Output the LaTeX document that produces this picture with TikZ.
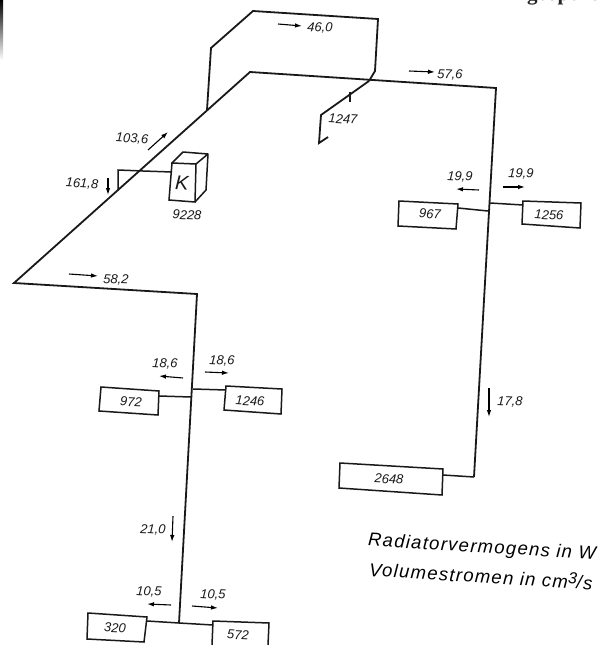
\documentclass[tikz,border=0pt]{standalone}
\usepackage{fontspec}
\usetikzlibrary{arrows.meta}
\setmainfont{Liberation Sans}
\newfontfamily\topfont{Liberation Serif}
\begin{document}
\begin{tikzpicture}[x=1pt,y=-1pt,
  pipe/.style={line width=1.8pt,line join=miter,draw=black!90},
  thin pipe/.style={line width=1.5pt,draw=black!90},
  flow/.style={line width=1.1pt,-{Latex[length=7pt,width=4.5pt]}},
  lbl/.style={font=\fontsize{13}{13}\itshape,rotate=-3,inner sep=0pt,text=black!90},
  biglbl/.style={font=\fontsize{18.5}{19}\addfontfeature{LetterSpace=7}\itshape,rotate=-3.5,inner sep=0pt,text=black},
  rad/.style={draw=black!90,line width=1.5pt,fill=white}]
\useasboundingbox (0,0) rectangle (610,645);
\fill[white] (0,0) rectangle (610,645);
\begin{scope}
\clip (0,0) rectangle (610,645);
\shade[top color=black,bottom color=white] (0,0) rectangle (3,60);
\node[anchor=base west,inner sep=0pt,font=\fontsize{21}{21}\topfont\bfseries,text=black!85] (cut) at (527,1) {geopend};
\end{scope}
% main network
\coordinate (start) at (14,283);
\coordinate (apex) at (250,72);
\coordinate (tr) at (496,88);
\coordinate (end2648) at (474,477);
\coordinate (jl) at (197,294);
\coordinate (jb) at (179,623);
\coordinate (ja) at (207,110);
\coordinate (jc) at (369,81);
\draw[pipe] (end2648) -- (tr) -- (apex) -- (start) -- (jl) -- (jb);
\draw[pipe] (ja) -- (211,48) -- (253,11) -- (378,19) -- (375,71) -- (jc);
% radiators
\draw[rad] (340,463) -- (443,469) -- (442,495) -- (339,488) -- cycle;
\draw[rad] (399,201) -- (458,204) -- (456,229) -- (398,226) -- cycle;
\draw[rad] (523,201) -- (581,203) -- (580,228) -- (522,224) -- cycle;
\draw[rad] (101,387) -- (159,391) -- (158,415) -- (99,411) -- cycle;
\draw[rad] (226,386) -- (282,389) -- (281,414) -- (224,410) -- cycle;
\draw[rad] (88,613) -- (147,617) -- (144,642) -- (87,639) -- cycle;
\draw[line width=1.5pt,draw=black!90] (212,645) -- (213,621) -- (269,623) -- (268,645);
\coordinate (r2648) at (443,475);
\coordinate (r967) at (458,208);
\coordinate (r1256) at (523,205);
\coordinate (r972) at (159,396);
\coordinate (r1246) at (226,390);
\coordinate (r320) at (147,621);
\coordinate (r572) at (213,625);
\draw[thin pipe] (r2648) -- (end2648);
\draw[thin pipe] (r967) -- (488,211);
\draw[thin pipe] (490,203) -- (r1256);
\draw[thin pipe] (r972) -- (191,397);
\draw[thin pipe] (193,389) -- (r1246);
\draw[thin pipe] (r320) -- (jb) -- (r572);
% boiler
\draw[rad] (172,163) -- (196,164) -- (195,202) -- (169,200) -- cycle;
\draw[line width=1.5pt,line join=round,draw=black!90] (172,163) -- (183,152) -- (208,154) -- (206,190) -- (195,202) (196,164) -- (208,154);
\draw[thin pipe] (118,190) -- (118,170) -- (143,171) -- (172,172);
% branch 1247
\draw[pipe] (jc) -- (321,115) -- (319,143) -- (328,137);
\draw[thin pipe] (350,92) -- (350,102);
% flow arrows
\draw[flow] (278,24) -- (302,26);
\draw[flow] (409,71) -- (435,72);
\draw[flow] (148,150) -- (168,132);
\draw[flow] (108,178) -- (108,195);
\draw[flow] (69,274) -- (98,276);
\draw[flow] (479,190) -- (456,189);
\draw[flow] (503,187) -- (525,187);
\draw[flow] (183,378) -- (159,376);
\draw[flow] (205,372) -- (229,373);
\draw[flow] (173,516) -- (172,542);
\draw[flow] (171,605) -- (147,604);
\draw[flow] (192,606) -- (218,608);
\draw[flow] (489,388) -- (489,417);
% labels
\node[lbl] (n1) at (320,28) {46,0};
\node[lbl] (n2) at (450,75) {57,6};
\node[lbl] (n3) at (132,139) {103,6};
\node[lbl] (n4) at (82,184) {161,8};
\node[lbl] (n5) at (116,280) {58,2};
\node[lbl] (n6) at (187,215) {9228};
\node[lbl,font=\fontsize{20}{20}\itshape] (nK) at (182,183) {K};
\node[lbl] (n7) at (343,119) {1247};
\node[lbl] (n8) at (430,214) {967};
\node[lbl] (n9) at (549,215) {1256};
\node[lbl] (n10) at (460,177) {19,9};
\node[lbl] (n11) at (521,174) {19,9};
\node[lbl] (n12) at (165,364) {18,6};
\node[lbl] (n13) at (222,361) {18,6};
\node[lbl] (n14) at (131,402) {972};
\node[lbl] (n15) at (250,401) {1246};
\node[lbl] (n16) at (153,530) {21,0};
\node[lbl] (n17) at (149,592) {10,5};
\node[lbl] (n18) at (213,595) {10,5};
\node[lbl] (n19) at (115,628) {320};
\node[lbl] (n20) at (238,635) {572};
\node[lbl] (n21) at (510,402) {17,8};
\node[lbl] (n22) at (389,479) {2648};
\node[biglbl] (t1) at (482,548) {Radiatorvermogens in W};
\node[biglbl] (t2) at (481,575) {Volumestromen in cm\raisebox{5pt}{\fontsize{16}{16}\selectfont 3}/s};
\end{tikzpicture}
\end{document}
